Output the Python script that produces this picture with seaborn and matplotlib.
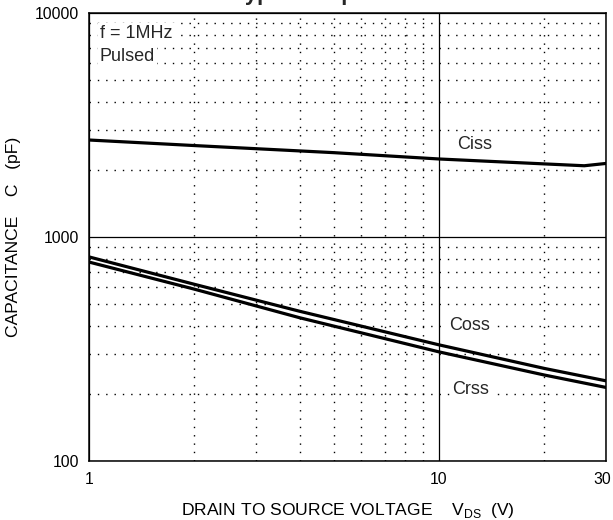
import matplotlib
matplotlib.use("Agg")
import matplotlib.pyplot as plt
import matplotlib.transforms as mtransforms
import seaborn as sns
import pandas as pd

# ---- data ----
vds = [1, 2, 4, 10, 20, 30]
ciss_v = [1, 2, 5, 10, 20, 26, 30]
ciss = [2710, 2560, 2380, 2230, 2120, 2080, 2130]
coss = [815, 615, 466, 330, 259, 228]
crss = [773, 585, 436, 307, 242, 213]

x_ticks = [1, 10, 30]
x_tick_labels = ["1", "10", "30"]
y_ticks = [100, 1000, 10000]
y_tick_labels = ["100", "1000", "10000"]

sns.set_theme(style="white")
plt.rcParams["font.family"] = ["Liberation Sans", "DejaVu Sans"]
plt.rcParams["mathtext.fontset"] = "custom"
plt.rcParams["mathtext.rm"] = "Liberation Sans"

fig = plt.figure(figsize=(6.13, 5.2), dpi=100)
ax = fig.add_axes([89 / 613, 59 / 520, 517 / 613, 448 / 520])

df_ciss = pd.DataFrame({"V": ciss_v, "C": ciss})
df_oss = pd.DataFrame({"V": vds, "C": coss})
df_rss = pd.DataFrame({"V": vds, "C": crss})
for d in (df_ciss, df_oss, df_rss):
    sns.lineplot(data=d, x="V", y="C", ax=ax, color="black", linewidth=2.3, zorder=5)

ax.set_xscale("log")
ax.set_yscale("log")
ax.set_xlim(1, 30)
ax.set_ylim(100, 10000)

ax.set_xticks(x_ticks)
ax.set_xticklabels(x_tick_labels)
ax.set_yticks(y_ticks)
ax.set_yticklabels(y_tick_labels)
ax.set_xticks([2, 3, 4, 5, 6, 7, 8, 9, 20], minor=True)
ax.set_yticks([200, 300, 400, 500, 600, 700, 800, 900,
               2000, 3000, 4000, 5000, 6000, 7000, 8000, 9000], minor=True)
ax.tick_params(which="both", length=0, labelsize=11.3, colors="black")
ax.tick_params(axis="y", pad=7)
ax.tick_params(axis="x", pad=8)

# nudge the last x tick label so it stays inside the picture
last = ax.get_xticklabels()[-1]
last.set_transform(last.get_transform() +
                   mtransforms.ScaledTranslation(-4 / 100, 0, fig.dpi_scale_trans))

ax.grid(which="major", color="black", linewidth=0.9, linestyle="-")
ax.grid(which="minor", color="black", linewidth=1.0, linestyle=(0, (1, 5)))

for s in ax.spines.values():
    s.set_color("black")
    s.set_linewidth(1.1)

ax.set_xlabel(r"DRAIN TO SOURCE VOLTAGE    V$_{\mathregular{DS}}$  (V)",
              fontsize=12.6, color="black", labelpad=10)
ax.set_ylabel("CAPACITANCE    C   (pF)", fontsize=12.6, color="black", labelpad=10)

box = dict(facecolor="white", edgecolor="none", pad=1.5)
ax.text(1.075, 8060, "f = 1MHz", fontsize=13, va="center", ha="left", bbox=box, zorder=6)
ax.text(1.075, 6370, "Pulsed", fontsize=13, va="center", ha="left", bbox=box, zorder=6)
ax.text(11.3, 2600, "Ciss", fontsize=13, va="center", ha="left", bbox=box, zorder=6)
ax.text(10.7, 401, "Coss", fontsize=13, va="center", ha="left", bbox=box, zorder=6)
ax.text(10.9, 209, "Crss", fontsize=13, va="center", ha="left", bbox=box, zorder=6)

fig.text(233 / 613, 1.0, "Typical Capacitance", fontsize=15.8,
         fontweight="bold", ha="left", va="baseline")

fig.savefig("out.png", dpi=100)
